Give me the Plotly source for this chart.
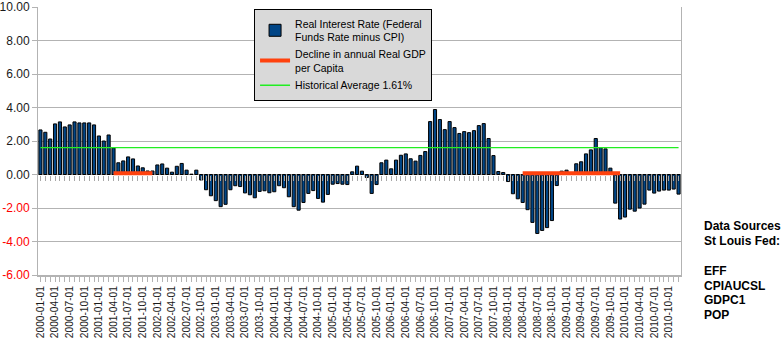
import plotly.graph_objects as go

# ---------------- data ----------------
months = [f"{y}-{m:02d}-01" for y in range(2000, 2011) for m in range(1, 13)]

real_rate = [
    2.66, 2.52, 2.12, 3.02, 3.14, 2.84, 2.96, 3.14, 3.08, 3.08, 3.08, 2.96,      # 2000
    2.30, 2.00, 2.36, 1.58, 0.70, 0.81, 1.05, 0.93, 0.51, 0.40, 0.21, 0.21,      # 2001
    0.57, 0.63, 0.38, 0.14, 0.49, 0.66, 0.26, 0.02, 0.26, -0.33, -0.91, -1.27,   # 2002
    -1.56, -1.92, -1.78, -0.91, -0.67, -0.72, -1.10, -1.21, -1.39, -1.01, -0.97, -1.09,  # 2003
    -1.03, -0.67, -0.79, -1.33, -1.92, -2.13, -1.67, -1.13, -0.96, -1.43, -1.65, -1.19,  # 2004
    -0.58, -0.54, -0.58, -0.60, 0.16, 0.50, 0.20, -0.18, -1.13, -0.60, 0.70, 0.86,       # 2005
    0.34, 0.86, 1.15, 1.23, 0.94, 0.80, 1.14, 1.37, 3.16, 3.88, 3.28, 2.68,      # 2006
    3.16, 2.80, 2.45, 2.56, 2.50, 2.62, 2.92, 3.04, 2.15, 1.13, 0.18, 0.12,      # 2007
    -0.42, -1.15, -1.45, -1.67, -2.10, -2.86, -3.52, -3.34, -3.17, -2.75, -0.66, 0.20,   # 2008
    0.26, 0.05, 0.64, 0.76, 1.23, 1.47, 2.15, 1.60, 1.53, 0.38, -1.71, -2.66,    # 2009
    -2.54, -2.07, -2.19, -2.00, -1.77, -0.93, -1.11, -0.99, -0.93, -0.93, -0.87, -1.17,  # 2010
]

decline_periods = [("2001-04-01", "2001-12-01"), ("2008-04-01", "2009-12-01")]
decline_level = 0.07
historical_avg = 1.61

y_min, y_max = -6, 10
y_ticks = [-6, -4, -2, 0, 2, 4, 6, 8, 10]
quarter_labels = [m if m[5:7] in ("01", "04", "07", "10") else "" for m in months]
source_lines = ["Data Sources", "St Louis Fed:", "", "EFF", "CPIAUCSL", "GDPC1", "POP"]

# ---------------- derived series ----------------
decline_vals = []
for m in months:
    inside = any(a <= m <= b for a, b in decline_periods)
    decline_vals.append(decline_level if inside else None)
avg_vals = [historical_avg] * len(months)

FONT = "Liberation Sans, Arial, sans-serif"
GRID = "#b3b3b3"

fig = go.Figure()
# invisible helper trace so the zero-line tick axis (x2 / y2) is rendered
fig.add_trace(go.Scatter(
    x=months, y=[0] * len(months), xaxis="x2", yaxis="y2", mode="lines",
    line=dict(width=0, color="rgba(0,0,0,0)"), showlegend=False, hoverinfo="skip",
))
fig.add_trace(go.Bar(
    x=months, y=real_rate,
    name="Real Interest Rate (Federal<br>Funds Rate minus CPI)",
    marker=dict(color="#004586", line=dict(color="black", width=1)),
    width=0.64,
))
fig.add_trace(go.Scatter(
    x=months, y=decline_vals, mode="lines",
    name="Decline in annual Real GDP<br>per Capita",
    line=dict(color="#ff420e", width=4), connectgaps=False,
))
fig.add_trace(go.Scatter(
    x=months, y=avg_vals, mode="lines",
    name="Historical Average 1.61%",
    line=dict(color="#22ee22", width=1.3),
))

tick_text = []
for v in y_ticks:
    s = f"{v:.2f}"
    tick_text.append(f"<span style='color:#ff0000'>{s}</span>" if v < 0 else s)

x_range = [-0.5, len(months) - 0.5]
zero_frac = (0 - y_min) / (y_max - y_min)

fig.update_layout(
    width=781, height=341,
    margin=dict(l=38, r=100, t=7, b=66, autoexpand=False),
    paper_bgcolor="white", plot_bgcolor="rgba(0,0,0,0)",
    font=dict(family=FONT, color="#1a1a1a"),
    showlegend=True,
    legend=dict(
        x=0.336, y=0.992, xanchor="left", yanchor="top",
        bgcolor="#d9d9d9", bordercolor="black", borderwidth=1,
        font=dict(family=FONT, size=10.5, color="black"),
        tracegroupgap=0, itemwidth=30,
    ),
    xaxis=dict(
        type="category", categoryorder="array", categoryarray=months,
        range=x_range, automargin=False,
        tickmode="array", tickvals=months, ticktext=quarter_labels,
        tickangle=-90, tickfont=dict(size=10.2, color="#1a1a1a"),
        ticks="outside", ticklen=5, tickcolor=GRID, tickwidth=1,
        showline=True, linecolor=GRID, linewidth=2,
        showgrid=False, zeroline=False,
    ),
    xaxis2=dict(
        type="category", categoryorder="array", categoryarray=months,
        range=x_range, anchor="y2", side="bottom", automargin=False,
        tickmode="array", tickvals=months, showticklabels=False,
        ticks="outside", ticklen=5, tickcolor="#a8a8a8", tickwidth=1,
        showline=False, showgrid=False, zeroline=False,
    ),
    yaxis=dict(
        range=[y_min, y_max], tickmode="array", tickvals=y_ticks, ticktext=tick_text,
        tickfont=dict(size=12, color="#1a1a1a"), automargin=False,
        ticks="outside", ticklen=5, tickcolor=GRID,
        showgrid=True, gridcolor=GRID, gridwidth=1,
        showline=True, linecolor=GRID, linewidth=1, mirror=True,
        zeroline=False,
    ),
    yaxis2=dict(
        domain=[zero_frac, 1], anchor="x2", range=[0, 1],
        showgrid=False, showline=False, zeroline=False, showticklabels=False,
        ticks="", automargin=False,
    ),
)

# right-hand data source notes
plot_h = 341 - 7 - 66
plot_w = 781 - 38 - 100
line_px = [226, 241, 256, 271, 286, 300, 315]
for txt, py in zip(source_lines, line_px):
    if not txt:
        continue
    fig.add_annotation(
        xref="paper", yref="paper",
        x=(702 - 38) / plot_w, y=(341 - 66 - py) / plot_h,
        xanchor="left", yanchor="middle", showarrow=False,
        text=f"<b>{txt}</b>", font=dict(family=FONT, size=12, color="black"),
    )

fig.write_html("out.html")
